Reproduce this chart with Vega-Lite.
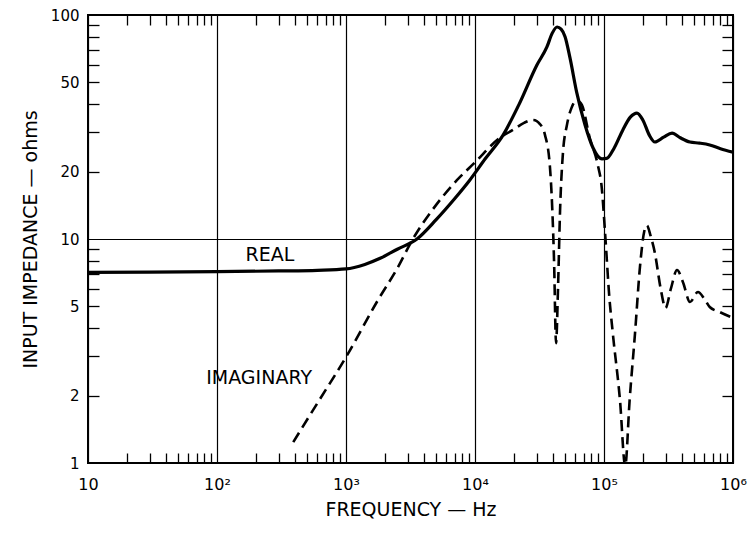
{
  "$schema": "https://vega.github.io/schema/vega-lite/v6.json",
  "width": 645,
  "height": 448,
  "autosize": "none",
  "padding": {"left": 88, "top": 15, "right": 18, "bottom": 70},
  "background": "white",
  "config": {
    "font": "DejaVu Sans",
    "view": {"stroke": "black", "strokeWidth": 2},
    "axis": {"labelColor": "black", "titleColor": "black", "tickColor": "black", "domainColor": "black", "gridColor": "black"}
  },
  "datasets": {
    "real": [
      {"f": 10, "v": 7.1}, {"f": 30, "v": 7.12}, {"f": 100, "v": 7.15}, {"f": 300, "v": 7.2},
      {"f": 600, "v": 7.25}, {"f": 1000, "v": 7.35}, {"f": 1400, "v": 7.7}, {"f": 1840, "v": 8.2},
      {"f": 2500, "v": 9.0}, {"f": 3550, "v": 10.0}, {"f": 5000, "v": 12.2}, {"f": 7000, "v": 15.2},
      {"f": 9100, "v": 18.3}, {"f": 12000, "v": 22.8}, {"f": 16500, "v": 29.1}, {"f": 22000, "v": 40},
      {"f": 30200, "v": 59.8}, {"f": 36100, "v": 72}, {"f": 39700, "v": 83}, {"f": 43300, "v": 88.4},
      {"f": 46500, "v": 86.5}, {"f": 49900, "v": 80}, {"f": 54500, "v": 64.3}, {"f": 61500, "v": 45},
      {"f": 71300, "v": 32.3}, {"f": 82300, "v": 25.5}, {"f": 96400, "v": 22.8}, {"f": 105000, "v": 22.9},
      {"f": 120000, "v": 25.5}, {"f": 140000, "v": 30.7}, {"f": 160000, "v": 35}, {"f": 180000, "v": 36.5},
      {"f": 200000, "v": 34}, {"f": 225000, "v": 29}, {"f": 248000, "v": 27.1}, {"f": 290000, "v": 28.5},
      {"f": 337000, "v": 29.7}, {"f": 390000, "v": 28.3}, {"f": 464000, "v": 27.1}, {"f": 550000, "v": 26.8},
      {"f": 660000, "v": 26.3}, {"f": 800000, "v": 25.3}, {"f": 1000000, "v": 24.4}
    ],
    "imag": [
      {"f": 390, "v": 1.24}, {"f": 600, "v": 1.85}, {"f": 1000, "v": 2.97}, {"f": 1770, "v": 5.34},
      {"f": 2500, "v": 7.4}, {"f": 3300, "v": 10}, {"f": 5000, "v": 14.2}, {"f": 7240, "v": 18.3},
      {"f": 10000, "v": 22}, {"f": 15600, "v": 28.3}, {"f": 19700, "v": 30.7}, {"f": 24000, "v": 33},
      {"f": 28200, "v": 34}, {"f": 32000, "v": 32.5}, {"f": 34900, "v": 29.1}, {"f": 38000, "v": 21.4},
      {"f": 39700, "v": 13.7}, {"f": 41000, "v": 8}, {"f": 42500, "v": 3.43}, {"f": 44000, "v": 6},
      {"f": 45700, "v": 13.7}, {"f": 48000, "v": 24}, {"f": 51600, "v": 32.3}, {"f": 56000, "v": 38.5},
      {"f": 59600, "v": 40.9}, {"f": 64000, "v": 41}, {"f": 67500, "v": 39.6}, {"f": 77600, "v": 28.2},
      {"f": 89500, "v": 21.4}, {"f": 96000, "v": 17}, {"f": 102000, "v": 10.6}, {"f": 110000, "v": 5.5},
      {"f": 117000, "v": 3.8}, {"f": 133000, "v": 1.91}, {"f": 146000, "v": 0.97}, {"f": 158000, "v": 1.91},
      {"f": 174000, "v": 3.8}, {"f": 190000, "v": 7.5}, {"f": 205000, "v": 10.8}, {"f": 215000, "v": 11.5},
      {"f": 230000, "v": 10.3}, {"f": 248000, "v": 8.66}, {"f": 275000, "v": 6}, {"f": 300000, "v": 4.92},
      {"f": 330000, "v": 6}, {"f": 368000, "v": 7.27}, {"f": 410000, "v": 6.4}, {"f": 464000, "v": 5.23},
      {"f": 535000, "v": 5.8}, {"f": 600000, "v": 5.4}, {"f": 660000, "v": 4.97}, {"f": 790000, "v": 4.72},
      {"f": 1000000, "v": 4.44}
    ],
    "labels": [
      {"f": 257, "v": 8.49, "t": "REAL"},
      {"f": 212, "v": 2.4, "t": "IMAGINARY"}
    ]
  },
  "layer": [
    {
      "data": {"name": "real"},
      "mark": {"type": "line", "color": "black", "strokeWidth": 3.2, "clip": true, "interpolate": "monotone"},
      "encoding": {
        "x": {
          "field": "f", "type": "quantitative",
          "scale": {"type": "log", "domain": [10, 1000000]},
          "axis": {
            "orient": "bottom",
            "values": [10, 100, 1000, 10000, 100000, 1000000],
            "ticks": false, "domain": false,
            "grid": true, "gridWidth": 1.2, "gridOpacity": 1,
            "labelFlush": false, "labelFontSize": 16, "labelPadding": 13,
            "labelExpr": "datum.value == 10 ? '10' : datum.value == 100 ? '10²' : datum.value == 1000 ? '10³' : datum.value == 10000 ? '10⁴' : datum.value == 100000 ? '10⁵' : '10⁶'",
            "title": "FREQUENCY — Hz", "titleFontSize": 19, "titleFontWeight": "normal", "titlePadding": 8
          }
        },
        "y": {
          "field": "v", "type": "quantitative",
          "scale": {"type": "log", "domain": [1, 100]},
          "axis": {
            "orient": "left",
            "values": [1, 2, 5, 10, 20, 50, 100],
            "ticks": false, "domain": false,
            "grid": true, "gridWidth": 1.2,
            "gridOpacity": {"condition": {"test": "datum.value == 10", "value": 1}, "value": 0},
            "labelFlush": false, "labelFontSize": 15, "labelPadding": 9, "format": "d",
            "title": "INPUT IMPEDANCE — ohms", "titleFontSize": 19, "titleFontWeight": "normal", "titlePadding": 10
          }
        }
      }
    },
    {
      "data": {"name": "imag"},
      "mark": {"type": "line", "color": "black", "strokeWidth": 2.6, "strokeDash": [11, 6], "clip": true, "interpolate": "monotone"},
      "encoding": {
        "x": {
          "field": "f", "type": "quantitative",
          "scale": {"type": "log", "domain": [10, 1000000]},
          "axis": {
            "orient": "bottom",
            "values": [20, 30, 40, 50, 60, 70, 80, 90, 200, 300, 400, 500, 600, 700, 800, 900, 2000, 3000, 4000, 5000, 6000, 7000, 8000, 9000, 20000, 30000, 40000, 50000, 60000, 70000, 80000, 90000, 200000, 300000, 400000, 500000, 600000, 700000, 800000, 900000],
            "ticks": true, "tickSize": -10, "tickWidth": 1.3,
            "labels": false, "domain": false, "grid": false, "title": null
          }
        },
        "y": {
          "field": "v", "type": "quantitative",
          "scale": {"type": "log", "domain": [1, 100]},
          "axis": {
            "orient": "left",
            "values": [2, 3, 4, 5, 6, 7, 8, 9, 20, 30, 40, 50, 60, 70, 80, 90],
            "ticks": true, "tickSize": -11, "tickWidth": 1.3,
            "labels": false, "domain": false, "grid": false, "title": null
          }
        }
      }
    },
    {
      "data": {"name": "labels"},
      "mark": {"type": "text", "color": "black", "fontSize": 19, "align": "center", "baseline": "middle"},
      "encoding": {
        "x": {
          "field": "f", "type": "quantitative",
          "scale": {"type": "log", "domain": [10, 1000000]},
          "axis": {
            "orient": "top",
            "values": [20, 30, 40, 50, 60, 70, 80, 90, 200, 300, 400, 500, 600, 700, 800, 900, 2000, 3000, 4000, 5000, 6000, 7000, 8000, 9000, 20000, 30000, 40000, 50000, 60000, 70000, 80000, 90000, 200000, 300000, 400000, 500000, 600000, 700000, 800000, 900000],
            "ticks": true, "tickSize": -10, "tickWidth": 1.3,
            "labels": false, "domain": false, "grid": false, "title": null
          }
        },
        "y": {
          "field": "v", "type": "quantitative",
          "scale": {"type": "log", "domain": [1, 100]},
          "axis": {
            "orient": "right",
            "values": [2, 3, 4, 5, 6, 7, 8, 9, 20, 30, 40, 50, 60, 70, 80, 90],
            "ticks": true, "tickSize": -11, "tickWidth": 1.3,
            "labels": false, "domain": false, "grid": false, "title": null
          }
        },
        "text": {"field": "t", "type": "nominal"}
      }
    }
  ],
  "resolve": {"axis": {"x": "independent", "y": "independent"}}
}
